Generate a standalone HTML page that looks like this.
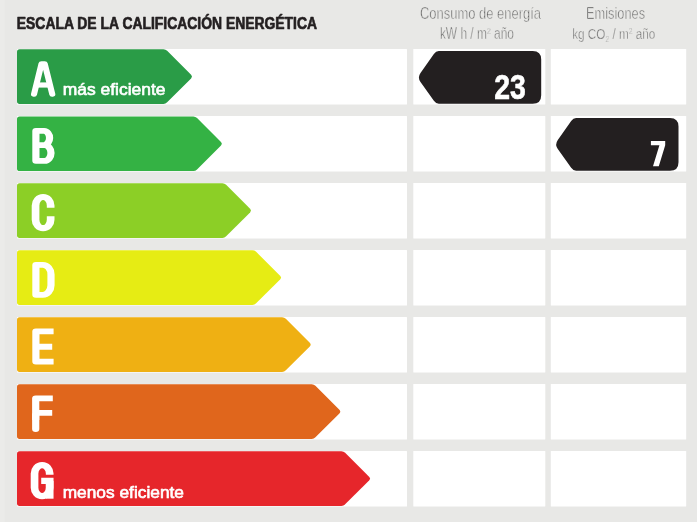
<!DOCTYPE html>
<html><head><meta charset="utf-8">
<style>
html,body{margin:0;padding:0;}
body{width:697px;height:522px;background:#e8e8e6;position:relative;overflow:hidden;}
svg{position:absolute;left:0;top:0;font-family:"Liberation Sans",sans-serif;will-change:transform;}
</style></head><body>
<svg width="697" height="522" viewBox="0 0 697 522">
<rect x="0" y="0" width="4.5" height="522" fill="#ebebe9"/>
<rect x="17" y="48.9" width="390" height="55.6" rx="0.6" fill="#fff"/>
<rect x="413.3" y="48.9" width="132" height="55.6" rx="0.6" fill="#fff"/>
<rect x="550.8" y="48.9" width="135.4" height="55.6" rx="0.6" fill="#fff"/>
<path fill="#2a9c47" d="M19.6,49.3 L163.4,49.3 Q165.6,49.3 167.14,50.84 L191.1,74.8 Q192.9,76.6 191.1,78.4 L167.14,102.36 Q165.6,103.9 163.4,103.9 L19.6,103.9 Q17,103.9 17,101.3 L17,51.9 Q17,49.3 19.6,49.3 Z"/>
<rect x="17" y="116" width="390" height="55.6" rx="0.6" fill="#fff"/>
<rect x="413.3" y="116" width="132" height="55.6" rx="0.6" fill="#fff"/>
<rect x="550.8" y="116" width="135.4" height="55.6" rx="0.6" fill="#fff"/>
<path fill="#34b244" d="M19.6,116.4 L193.3,116.4 Q195.5,116.4 197.04,117.94 L221,141.9 Q222.8,143.7 221,145.5 L197.04,169.46 Q195.5,171 193.3,171 L19.6,171 Q17,171 17,168.4 L17,119 Q17,116.4 19.6,116.4 Z"/>
<rect x="17" y="182.9" width="390" height="55.6" rx="0.6" fill="#fff"/>
<rect x="413.3" y="182.9" width="132" height="55.6" rx="0.6" fill="#fff"/>
<rect x="550.8" y="182.9" width="135.4" height="55.6" rx="0.6" fill="#fff"/>
<path fill="#8ccf26" d="M19.6,183.3 L222.4,183.3 Q224.6,183.3 226.14,184.84 L250.1,208.8 Q251.9,210.6 250.1,212.4 L226.14,236.36 Q224.6,237.9 222.4,237.9 L19.6,237.9 Q17,237.9 17,235.3 L17,185.9 Q17,183.3 19.6,183.3 Z"/>
<rect x="17" y="249.9" width="390" height="55.6" rx="0.6" fill="#fff"/>
<rect x="413.3" y="249.9" width="132" height="55.6" rx="0.6" fill="#fff"/>
<rect x="550.8" y="249.9" width="135.4" height="55.6" rx="0.6" fill="#fff"/>
<path fill="#e6ec14" d="M19.6,250.3 L252.4,250.3 Q254.6,250.3 256.14,251.84 L280.1,275.8 Q281.9,277.6 280.1,279.4 L256.14,303.36 Q254.6,304.9 252.4,304.9 L19.6,304.9 Q17,304.9 17,302.3 L17,252.9 Q17,250.3 19.6,250.3 Z"/>
<rect x="17" y="316.9" width="390" height="55.6" rx="0.6" fill="#fff"/>
<rect x="413.3" y="316.9" width="132" height="55.6" rx="0.6" fill="#fff"/>
<rect x="550.8" y="316.9" width="135.4" height="55.6" rx="0.6" fill="#fff"/>
<path fill="#efb013" d="M19.6,317.3 L282.1,317.3 Q284.3,317.3 285.84,318.84 L309.8,342.8 Q311.6,344.6 309.8,346.4 L285.84,370.36 Q284.3,371.9 282.1,371.9 L19.6,371.9 Q17,371.9 17,369.3 L17,319.9 Q17,317.3 19.6,317.3 Z"/>
<rect x="17" y="383.9" width="390" height="55.6" rx="0.6" fill="#fff"/>
<rect x="413.3" y="383.9" width="132" height="55.6" rx="0.6" fill="#fff"/>
<rect x="550.8" y="383.9" width="135.4" height="55.6" rx="0.6" fill="#fff"/>
<path fill="#e0661c" d="M19.6,384.3 L311.7,384.3 Q313.9,384.3 315.44,385.84 L339.4,409.8 Q341.2,411.6 339.4,413.4 L315.44,437.36 Q313.9,438.9 311.7,438.9 L19.6,438.9 Q17,438.9 17,436.3 L17,386.9 Q17,384.3 19.6,384.3 Z"/>
<rect x="17" y="450.9" width="390" height="55.6" rx="0.6" fill="#fff"/>
<rect x="413.3" y="450.9" width="132" height="55.6" rx="0.6" fill="#fff"/>
<rect x="550.8" y="450.9" width="135.4" height="55.6" rx="0.6" fill="#fff"/>
<path fill="#e6262b" d="M19.6,451.3 L341.4,451.3 Q343.6,451.3 345.14,452.84 L369.1,476.8 Q370.9,478.6 369.1,480.4 L345.14,504.36 Q343.6,505.9 341.4,505.9 L19.6,505.9 Q17,505.9 17,503.3 L17,453.9 Q17,451.3 19.6,451.3 Z"/>
<path fill="#231f20" d="M438.8,51.1 L532.7,51.1 Q541.2,51.1 541.2,59.6 L541.2,95.2 Q541.2,103.7 532.7,103.7 L438.8,103.7 Q436,103.7 433.87,100.7 L420.5,81.9 Q417.3,77.4 420.5,72.9 L433.87,54.1 Q436,51.1 438.8,51.1 Z"/>
<path fill="#231f20" d="M576.1,118.1 L670,118.1 Q678.5,118.1 678.5,126.6 L678.5,162.2 Q678.5,170.7 670,170.7 L576.1,170.7 Q573.3,170.7 571.17,167.7 L557.8,148.9 Q554.6,144.4 557.8,139.9 L571.17,121.1 Q573.3,118.1 576.1,118.1 Z"/>
<g transform="scale(1.24,1)" fill="none" stroke="#fff"><path d="M27.42,94.30 L33.47,63.80 L36.05,63.80 L42.18,94.30" stroke-width="4.9" stroke-linecap="round" stroke-linejoin="round"/>
<path d="M29.84,85.00 H39.52" stroke-width="5.2" stroke-linecap="butt" stroke-linejoin="round"/>
<path d="M28.95,130.90 H35.48 A4.68,7.08 0 0 1 35.48,145.05 H28.95 M28.95,145.05 H35.89 A5.24,7.90 0 0 1 35.89,160.85 H28.95 M28.95,130.90 V160.85" stroke-width="5.8" stroke-linecap="round" stroke-linejoin="round"/>
<path d="M40.85,207.70 V205.40 A6.09,8.40 0 0 0 28.67,205.40 V219.80 A6.09,8.40 0 0 0 40.85,219.80 V216.30" stroke-width="6.2" stroke-linecap="butt" stroke-linejoin="round"/>
<path d="M28.95,264.90 H34.52 A6.61,9.50 0 0 1 41.13,274.40 V285.30 A6.61,9.50 0 0 1 34.52,294.80 H28.95 Z" stroke-width="5.8" stroke-linecap="butt" stroke-linejoin="round"/>
<path d="M43.23,331.35 H28.95 V361.55 H43.23 M28.95,346.75 H42.10" stroke-width="5.8" stroke-linecap="butt" stroke-linejoin="round"/>
<path d="M42.58,398.35 H28.79 V420.00 M28.79,412.95 H42.10" stroke-width="5.8" stroke-linecap="butt" stroke-linejoin="round"/>
<path d="M28.79,415.00 V429.10" stroke-width="5.8" stroke-linecap="round" stroke-linejoin="round"/>
<path d="M40.08,474.80 V473.50 A6.11,8.40 0 0 0 27.86,473.50 V487.70 A6.11,8.40 0 0 0 40.08,487.70 V480.90 H33.23" stroke-width="6.2" stroke-linecap="butt" stroke-linejoin="miter"/>
<path d="M40.08,480.90 V498.70" stroke-width="6.2" stroke-linecap="butt" stroke-linejoin="round"/></g>
<path fill="#fff" d="M650.9,141.1 H665.2 V145.2 L658.8,166.2 H653.0 L659.4,145.2 H650.9 Z"/>
<text transform="translate(16.82,29.37) scale(0.7729,0.9673)" font-size="18" font-weight="bold" fill="#231f20" stroke="#231f20" stroke-width="0.75" stroke-linejoin="round">ESCALA DE LA CALIFICACIÓN ENERGÉTICA</text>
<text transform="translate(419.94,19.24) scale(0.8108,1.0553)" font-size="16" font-weight="normal" fill="#505050" stroke="#e8e8e6" stroke-width="0.6" stroke-linejoin="round">Consumo de energía</text>
<text transform="translate(439.88,38.98) scale(0.8525,1.1266)" font-size="14" font-weight="normal" fill="#585858" stroke="#e8e8e6" stroke-width="0.5" stroke-linejoin="round">kW h / m<tspan dy="-4" font-size="8">2</tspan><tspan dy="4"> año</tspan></text>
<text transform="translate(586.10,19.26) scale(0.7993,1.0320)" font-size="16" font-weight="normal" fill="#505050" stroke="#e8e8e6" stroke-width="0.6" stroke-linejoin="round">Emisiones</text>
<text transform="translate(572.15,38.55) scale(0.8397,1.0208)" font-size="14" font-weight="normal" fill="#585858" stroke="#e8e8e6" stroke-width="0.5" stroke-linejoin="round">kg CO<tspan dy="3" font-size="8">2</tspan><tspan dy="-3"> / m</tspan><tspan dy="-4" font-size="8">2</tspan><tspan dy="4"> año</tspan></text>
<text transform="translate(62.78,95.35) scale(1.0263,0.9964)" font-size="17" font-weight="normal" fill="#fff" stroke="#fff" stroke-width="0.65" stroke-linejoin="round">más eficiente</text>
<text transform="translate(62.63,498.20) scale(1.0199,1.0000)" font-size="17" font-weight="normal" fill="#fff" stroke="#fff" stroke-width="0.65" stroke-linejoin="round">menos eficiente</text>
<text transform="translate(494.26,98.58) scale(0.8375,1.0303)" font-size="34" font-weight="bold" fill="#fff" stroke="#fff" stroke-width="0.6" stroke-linejoin="round">23</text>
</svg>
</body></html>
